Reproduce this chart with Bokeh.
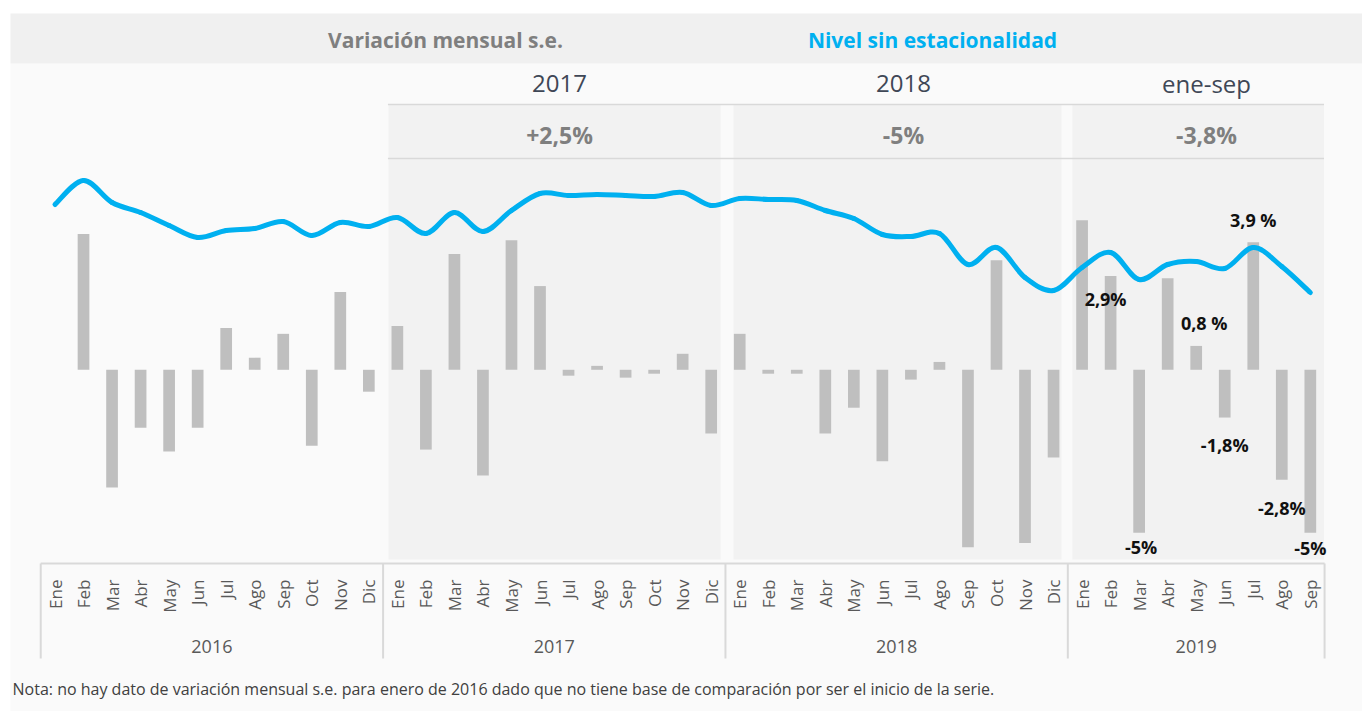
import math
from bokeh.plotting import figure
from bokeh.models import Range1d
from bokeh.core.properties import value
from bokeh.embed import file_html
from bokeh.resources import INLINE

# ---------------- data ----------------
years = ["2016", "2017", "2018", "2019"]
months = ["Ene", "Feb", "Mar", "Abr", "May", "Jun", "Jul", "Ago", "Sep", "Oct", "Nov", "Dic"]
months_per_year = [12, 12, 12, 9]

# monthly variation s.e. (%); no value for Jan 2016
variacion = [
    None, 4.15, -3.6, -1.77, -2.5, -1.77, 1.28, 0.37, 1.1, -2.32, 2.38, -0.67,
    1.34, -2.44, 3.54, -3.23, 3.96, 2.56, -0.18, 0.12, -0.24, -0.12, 0.49, -1.95,
    1.1, -0.12, -0.12, -1.95, -1.16, -2.8, -0.3, 0.24, -5.43, 3.35, -5.3, -2.68,
    4.57, 2.87, -4.98, 2.8, 0.73, -1.46, 3.9, -3.36, -4.98,
]

# seasonally adjusted level (index, Ene 2016 = 100)
nivel = [
    100.0, 102.4, 100.2, 99.2, 97.9, 96.7, 97.4, 97.6, 98.3, 96.9, 98.2, 97.8,
    98.7, 97.1, 99.2, 97.3, 99.4, 101.1, 100.9, 101.0, 100.9, 100.8, 101.2, 99.9,
    100.6, 100.5, 100.4, 99.4, 98.6, 97.0, 96.8, 97.1, 94.0, 95.7, 92.7, 91.4,
    93.7, 95.2, 92.5, 94.0, 94.3, 93.6, 95.7, 93.8, 91.2,
]

periodos = ["2017", "2018", "ene-sep"]
periodos_var = ["+2,5%", "-5%", "-3,8%"]

etiquetas_idx = [37, 38, 40, 41, 42, 43, 44]
etiquetas_txt = ["2,9%", "-5%", "0,8 %", "-1,8%", "3,9 %", "-2,8%", "-5%"]

nota = ("Nota: no hay dato de variación mensual s.e. para enero de 2016 dado que no tiene "
        "base de comparación por ser el inicio de la serie.")

# ---------------- layout helpers (page pixels -> data) ----------------
W, H = 1362, 711
OFF = 0
X0, XS = 54.5, 28.53
Y0, YS = 369.3, 32.7


def xd(px):
    return (px - X0) / XS


def yd(py):
    return (Y0 - py) / YS


def lv(py):
    return 100 + (204 - py) * 0.1


p = figure(width=W, height=H,
           x_range=Range1d(xd(OFF), xd(OFF + W)),
           y_range=Range1d(yd(OFF + H), yd(OFF)),
           output_backend="svg", toolbar_location=None,
           x_axis_location=None, y_axis_location=None,
           min_border=0, min_border_left=0, min_border_right=0,
           min_border_top=0, min_border_bottom=0,
           outline_line_color=None,
           background_fill_color="white", border_fill_color="white")
p.grid.visible = False
p.extra_y_ranges = {"nivel": Range1d(lv(OFF + H), lv(OFF))}

FONT = value("Open Sans")

idx = list(range(sum(months_per_year)))
month_labels = []
for y, n in zip(years, months_per_year):
    month_labels += months[:n]

# panel background
p.quad(left=xd(10), right=xd(OFF + W + 10), bottom=yd(OFF + H + 10), top=yd(63),
       fill_color="#fafafa", line_color=None)
# header band
p.quad(left=xd(10), right=xd(OFF + W + 10), bottom=yd(63), top=yd(13),
       fill_color="#f0f0f0", line_color=None)

# shaded period bands
bounds = []
acc = 0
for n in months_per_year:
    acc += n
    bounds.append(acc - 0.5)
band_left = [bounds[0] + 0.19, bounds[1] + 0.28, bounds[2] + 0.16]
band_right = [bounds[1] - 0.17, bounds[2] - 0.22, bounds[3] - 0.02]
p.quad(left=band_left, right=band_right, bottom=yd(559), top=yd(104),
       fill_color="#f2f2f2", line_color=None)
p.segment(x0=band_left[0] - 0.02, x1=band_right[2], y0=[yd(104), yd(158)], y1=[yd(104), yd(158)],
          line_color="#d9d9d9", line_width=1.5)

# header texts
p.text(x=[xd(445)], y=[yd(39)], text=["Variación mensual s.e."], text_font=FONT,
       text_font_size="21px", text_font_style="bold", text_color="#7f7f7f",
       text_align="center", text_baseline="middle")
p.text(x=[xd(932)], y=[yd(39)], text=["Nivel sin estacionalidad"], text_font=FONT,
       text_font_size="21px", text_font_style="bold", text_color="#00b0f0",
       text_align="center", text_baseline="middle")

per_x = [xd(559), xd(903), xd(1206)]
p.text(x=per_x, y=yd(83), text=periodos, text_font=FONT, text_font_size="24px",
       text_color="#3f4756", text_align="center", text_baseline="middle")
p.text(x=per_x, y=yd(134), text=periodos_var, text_font=FONT, text_font_size="23px",
       text_font_style="bold", text_color="#7f7f7f", text_align="center", text_baseline="middle")

# bars
bx = [i for i, v in zip(idx, variacion) if v is not None]
bt = [v for v in variacion if v is not None]
p.vbar(x=bx, top=bt, bottom=0, width=0.41, fill_color="#bfbfbf", line_color=None)

# smooth level line (Catmull-Rom -> cubic Bezier through the data points)
n = len(nivel)
x0s, y0s, x1s, y1s, cx0, cy0, cx1, cy1 = [], [], [], [], [], [], [], []
for i in range(n - 1):
    pm = max(i - 1, 0)
    pp = min(i + 2, n - 1)
    x0s.append(idx[i]); y0s.append(nivel[i])
    x1s.append(idx[i + 1]); y1s.append(nivel[i + 1])
    cx0.append(idx[i] + (idx[i + 1] - idx[pm]) / 6.0)
    cy0.append(nivel[i] + (nivel[i + 1] - nivel[pm]) / 6.0)
    cx1.append(idx[i + 1] - (idx[pp] - idx[i]) / 6.0)
    cy1.append(nivel[i + 1] - (nivel[pp] - nivel[i]) / 6.0)
p.bezier(x0=x0s, y0=y0s, x1=x1s, y1=y1s, cx0=cx0, cy0=cy0, cx1=cx1, cy1=cy1,
         line_color="#00b0f0", line_width=5, line_cap="round", y_range_name="nivel")

# data labels for 2019
lab_dx = {37: -5, 38: 2, 40: 8, 41: 0, 42: 0, 43: 0, 44: 0}
lab_dy = {37: 23, 38: 14, 40: -23, 41: 27, 42: -22, 43: 28, 44: 15}
for i, t in zip(etiquetas_idx, etiquetas_txt):
    p.text(x=[i], y=[variacion[i]], text=[t], x_offset=lab_dx[i], y_offset=lab_dy[i],
           text_font=FONT, text_font_size="18px", text_font_style="bold",
           text_color="#111111", text_align="center", text_baseline="middle")

# bottom category axis box
ax_top, ax_bot = yd(563), yd(658)
p.segment(x0=[-0.5], x1=[bounds[-1]], y0=[ax_top], y1=[ax_top], line_color="#d9d9d9", line_width=2)
seps = [-0.5] + bounds
p.segment(x0=seps, x1=seps, y0=ax_top, y1=ax_bot, line_color="#d9d9d9", line_width=2)

p.text(x=idx, y=yd(579), text=month_labels, angle=math.pi / 2, text_font=FONT,
       text_font_size="17px", text_color="#595959", text_align="right", text_baseline="middle")
year_x = []
start = 0
for n_m in months_per_year:
    year_x.append(start + (n_m - 1) / 2.0)
    start += n_m
p.text(x=year_x, y=yd(646), text=years, text_font=FONT, text_font_size="18px",
       text_color="#595959", text_align="center", text_baseline="middle")

# note
p.text(x=[xd(12)], y=[yd(688)], text=[nota], text_font=FONT, text_font_size="16px",
       text_color="#404040", text_align="left", text_baseline="middle")

open("out.html", "w").write(file_html(p, INLINE))
